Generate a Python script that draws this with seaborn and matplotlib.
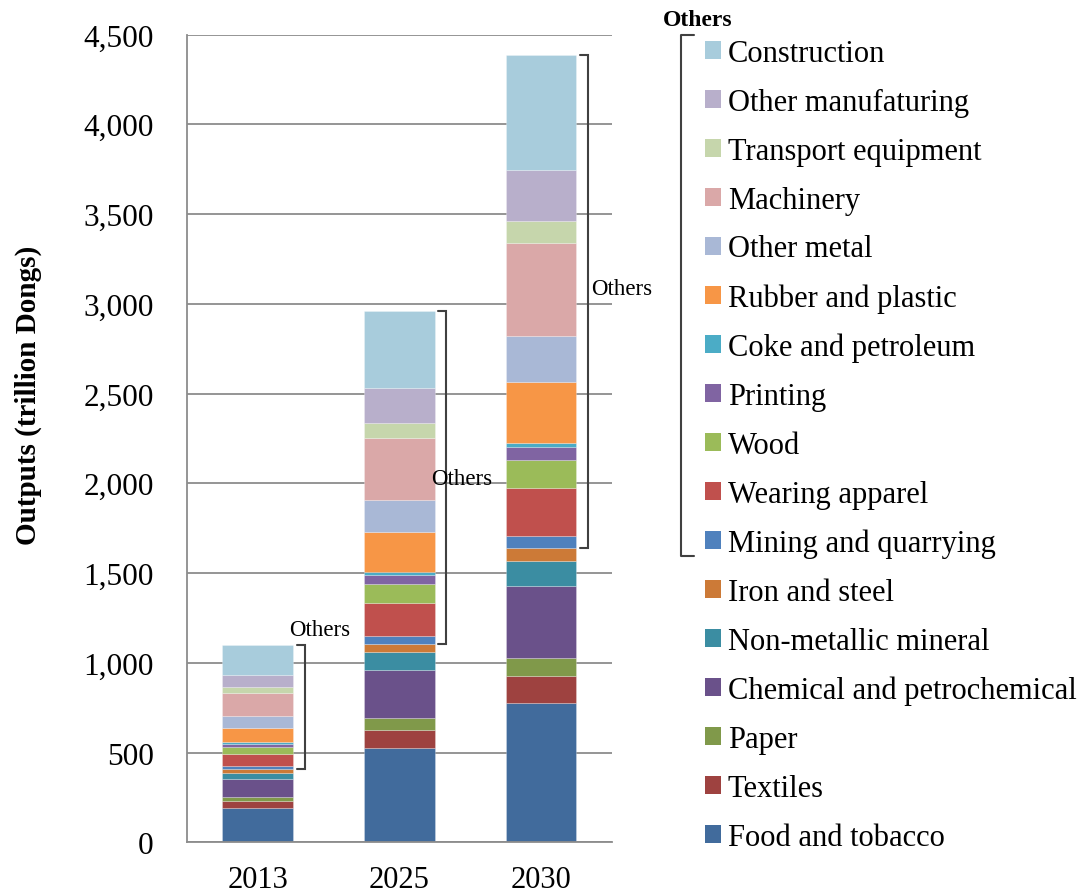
import matplotlib
matplotlib.use("Agg")
import matplotlib.pyplot as plt
from matplotlib.lines import Line2D
from matplotlib.patches import Patch
from matplotlib.ticker import FuncFormatter, MultipleLocator, FixedLocator
import seaborn as sns
import pandas as pd

years = ["2013", "2025", "2030"]
sectors = ["Food and tobacco", "Textiles", "Paper", "Chemical and petrochemical",
           "Non-metallic mineral", "Iron and steel", "Mining and quarrying",
           "Wearing apparel", "Wood", "Printing", "Coke and petroleum",
           "Rubber and plastic", "Other metal", "Machinery", "Transport equipment",
           "Other manufaturing", "Construction"]
v2013 = [189, 41, 24, 100, 34, 19, 18, 65, 43, 13, 11, 81, 67, 128, 31, 70, 165]
v2025 = [524, 100, 67, 271, 96, 47, 46, 182, 106, 48, 17, 226, 177, 347, 82, 195, 431]
v2030 = [774, 151, 100, 401, 143, 71, 67, 268, 156, 70, 23, 342, 257, 517, 121, 284, 643]
colors = ["#416B9C", "#9E4240", "#80994A", "#6A518A", "#3B8DA2", "#CC7A37",
          "#4F81BD", "#C0504D", "#9BBB59", "#8064A2", "#4BACC6", "#F79646",
          "#A9B8D6", "#DAA8A8", "#C6D6AC", "#B8AFCB", "#A8CCDC"]
others_start = "Mining and quarrying"

rows = []
for yr, vals in zip(years, [v2013, v2025, v2030]):
    for s, v in zip(sectors, vals):
        rows.append({"year": yr, "sector": s, "value": v})
df = pd.DataFrame(rows)
palette = dict(zip(sectors, colors))

sns.set_style("white")
plt.rcParams["font.family"] = ["Liberation Serif", "DejaVu Serif"]
plt.rcParams["text.color"] = "black"
plt.rcParams["axes.labelcolor"] = "black"

fig = plt.figure(figsize=(10.88, 8.95), dpi=100)
W, H = 1088, 895
ax = fig.add_axes([187 / W, (H - 843.3) / H, (611.7 - 187) / W, (843.3 - 35.5) / H])

sns.histplot(data=df, x="year", weights="value", hue="sector",
             hue_order=sectors[::-1], multiple="stack", discrete=True,
             shrink=0.5, palette=palette, alpha=1, linewidth=0.5,
             edgecolor=(1, 1, 1, 0.35), legend=False, ax=ax)

ax.set_ylim(0, 4500)
ax.set_xlim(-0.5, 2.5)
ax.yaxis.set_major_locator(MultipleLocator(500))
ax.yaxis.set_major_formatter(FuncFormatter(lambda v, p: f"{int(v):,}"))
ax.grid(axis="y", color="#8C8C8C", linewidth=1.3)
ax.set_axisbelow(True)
for side in ["top", "right"]:
    ax.spines[side].set_visible(False)
for side in ["left", "bottom"]:
    ax.spines[side].set_color("#8C8C8C")
    ax.spines[side].set_linewidth(1.3)

ax.set_xticks(range(len(years)))
ax.set_xticklabels(years)
ax.xaxis.set_minor_locator(FixedLocator([-0.5, 0.5, 1.5, 2.5]))
ax.tick_params(axis="x", which="major", length=0, labelsize=22, pad=16,
               labelcolor="black")
ax.tick_params(axis="x", which="minor", length=9, width=1.3, color="#8C8C8C", direction="out")
ax.tick_params(axis="y", length=7, width=1.3, color="#8C8C8C", direction="out",
               labelsize=22.5, labelcolor="black", pad=17)
ax.set_xlabel("")
ax.set_ylabel("Outputs (trillion Dongs)", fontsize=21, fontweight="bold")
ax.yaxis.set_label_coords((42 - 187) / 424.7, (843.3 - 395) / 807.8)

# Brackets marking the "Others" group
others_idx = sectors.index(others_start)
text_pos = [(0.44, 1183), (0.44, 2024), (0.57, 3083)]
for i, vals in enumerate([v2013, v2025, v2030]):
    lo = sum(vals[:others_idx])
    hi = sum(vals)
    xb = i + 0.33
    xa = i + 0.275
    ax.plot([xa, xb, xb, xa], [hi, hi, lo, lo], color="#404040", lw=1.5,
            solid_joinstyle="miter", clip_on=False)
    tx, ty = text_pos[i]
    ax.text(i + tx, ty, "Others", fontsize=16.5, ha="center", va="center")

# Legend
handles = [Patch(facecolor=palette[s], edgecolor="none") for s in sectors[::-1]]
fig.legend(handles, sectors[::-1], loc="upper left",
           bbox_to_anchor=(705 / W, 1 - 40 / H), frameon=False, fontsize=22,
           borderpad=0, borderaxespad=0, labelspacing=0.65, handlelength=0.52,
           handleheight=0.52, handletextpad=0.23, labelcolor="black")
fig.text(663 / W, 1 - 20 / H, "Others", fontsize=17, fontweight="bold",
         ha="left", va="center")
fig.add_artist(Line2D([694 / W, 680.5 / W, 680.5 / W, 694 / W],
                      [1 - 36 / H, 1 - 36 / H, 1 - 557 / H, 1 - 557 / H],
                      color="#404040", lw=1.5, transform=fig.transFigure))

fig.savefig("out.png", dpi=100)
